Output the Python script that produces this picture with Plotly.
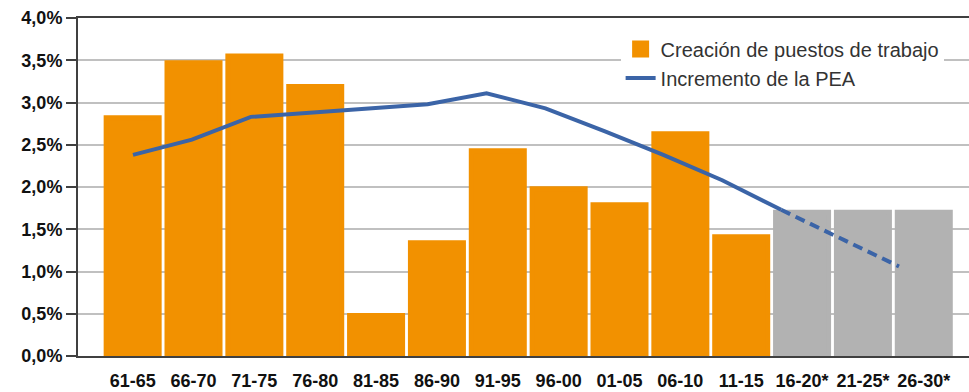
import plotly.graph_objects as go

periods = ["61-65", "66-70", "71-75", "76-80", "81-85", "86-90", "91-95",
           "96-00", "01-05", "06-10", "11-15", "16-20*", "21-25*", "26-30*"]
jobs = [2.82, 3.47, 3.55, 3.19, 0.48, 1.34, 2.43, 1.98, 1.79, 2.63, 1.41, 1.70, 1.70, 1.70]
projected = [False] * 11 + [True] * 3
pea_observed = [2.38, 2.56, 2.83, 2.88, 2.93, 2.98, 3.11, 2.93, 2.66, 2.38, 2.08, 1.73, None, None]
pea_projected = [None] * 11 + [1.73, 1.39, 1.06]
y_ticks = [0, 0.5, 1.0, 1.5, 2.0, 2.5, 3.0, 3.5, 4.0]
y_labels = ["0,0%", "0,5%", "1,0%", "1,5%", "2,0%", "2,5%", "3,0%", "3,5%", "4,0%"]

ORANGE = "#F29100"
GREY = "#B2B2B2"
BLUE = "#3B64A7"
bar_colors = [GREY if p else ORANGE for p in projected]
FONT = "Liberation Sans, Arial, sans-serif"

fig = go.Figure()
fig.add_trace(go.Bar(
    x=periods, y=jobs, name="Creación de puestos de trabajo",
    marker=dict(color=bar_colors, line=dict(color=bar_colors, width=5)),
))
fig.add_trace(go.Scatter(
    x=periods, y=pea_observed, name="Incremento de la PEA", xaxis="x2",
    mode="lines", line=dict(color=BLUE, width=4), connectgaps=False,
))
fig.add_trace(go.Scatter(
    x=periods, y=pea_projected, name="Incremento de la PEA (proyección)", xaxis="x2",
    mode="lines", line=dict(color=BLUE, width=4, dash="10px,6px"), showlegend=False,
))

fig.update_layout(
    width=969, height=392,
    margin=dict(l=78, r=0, t=18, b=36),
    plot_bgcolor="white", paper_bgcolor="white",
    bargap=0.129,
    font=dict(family=FONT, color="#1a1a1a"),
    xaxis=dict(
        type="category", categoryorder="array", categoryarray=periods,
        range=[-0.898, 13.743], automargin=False,
        showline=True, linecolor="#404040", linewidth=2, mirror=True,
        showgrid=False, ticks="", ticklabelstandoff=7,
        tickfont=dict(size=18, family=FONT, color="#111", weight="bold"),
    ),
    xaxis2=dict(
        type="category", categoryorder="array", categoryarray=periods,
        overlaying="x", range=[-0.933, 14.188], visible=False,
    ),
    yaxis=dict(
        range=[0, 4], tickvals=y_ticks, ticktext=y_labels, automargin=False,
        showline=True, linecolor="#404040", linewidth=2,
        ticks="outside", ticklen=10, tickwidth=1.5, tickcolor="#404040",
        showgrid=True, gridcolor="#C0C0C0", gridwidth=1.5,
        tickfont=dict(size=18, family=FONT, color="#111", weight="bold"),
        zeroline=False,
    ),
    legend=dict(
        x=0.609, y=0.966, xanchor="left", yanchor="top",
        bgcolor="white", borderwidth=0,
        font=dict(size=20, color="#333", family=FONT),
    ),
)

fig.write_html("out.html")
